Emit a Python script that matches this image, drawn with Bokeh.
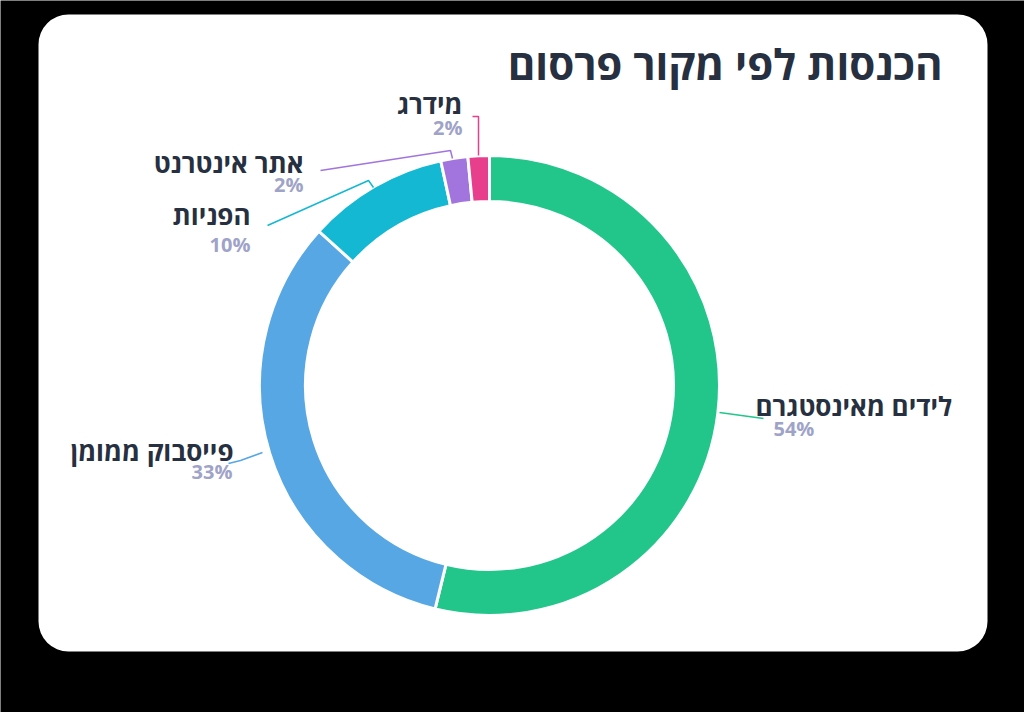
import math
from bokeh.plotting import figure
from bokeh.models import Range1d, BoxAnnotation
from bokeh.core.properties import value
from bokeh.embed import file_html
from bokeh.resources import INLINE

# data
title = "הכנסות לפי מקור פרסום"
sources = ["לידים מאינסטגרם", "פייסבוק ממומן", "הפניות", "אתר אינטרנט", "מידרג"]
shares = [53.8, 32.9, 9.9, 1.9, 1.5]
pct_labels = ["54%", "33%", "10%", "2%", "2%"]
colors = ["#22c68a", "#57a7e5", "#14b8d2", "#a275de", "#e83f8d"]

# label layout in page pixels (x, y of name; text alignment; leader points)
name_pos = [(755, 405), (233, 450), (250, 214), (303, 162), (462, 103)]
pct_pos = [(773, 428), (232, 471), (250, 244), (303, 184), (462, 127)]
aligns = ["left", "right", "right", "right", "right"]
leaders = [
    [(719, 412), (763, 418)],
    [(262, 452), (240, 460), (228, 463)],
    [(373, 187), (368, 180), (267, 225)],
    [(452, 158), (450, 150), (320, 170)],
    [(478, 155), (478, 116), (472, 116)],
]

CX, CY = 489, 385  # donut centre in page pixels
W, H = 1024, 712


def px(x):
    return x - CX


def py(y):
    return CY - y


p = figure(width=W, height=H, output_backend="svg", toolbar_location=None,
           x_range=Range1d(px(0), px(W)), y_range=Range1d(py(H), py(0)),
           min_border=0)
p.axis.visible = False
p.grid.visible = False
p.outline_line_color = None
p.background_fill_color = "black"
p.border_fill_color = "black"

# white card
card = BoxAnnotation(left=px(38), right=px(987), top=py(14), bottom=py(651),
                     fill_color="white", fill_alpha=1, line_alpha=0,
                     border_radius=30, level="underlay")
p.add_layout(card)

# donut
total = sum(shares)
starts, ends = [], []
acc = 0.0
for s in shares:
    starts.append(math.pi / 2 - 2 * math.pi * acc / total)
    acc += s
    ends.append(math.pi / 2 - 2 * math.pi * acc / total)

p.annular_wedge(x=0, y=0, inner_radius=184, outer_radius=230,
                start_angle=starts, end_angle=ends, direction="clock",
                fill_color=colors, line_color="white", line_width=3)

# leader lines
for pts, c in zip(leaders, colors):
    p.line([px(a) for a, b in pts], [py(b) for a, b in pts],
           line_color=c, line_width=1.5)

# labels
for name, pct, (nx, ny), (qx, qy), al in zip(sources, pct_labels, name_pos, pct_pos, aligns):
    p.text(x=[px(nx)], y=[py(ny)], text=[name], text_align=al,
           text_baseline="middle", text_font=value("Open Sans"),
           text_font_style="bold", text_font_size="26px", text_color="#263040")
    p.text(x=[px(qx)], y=[py(qy)], text=[pct], text_align=al,
           text_baseline="middle", text_font=value("Open Sans"),
           text_font_style="bold", text_font_size="20px", text_color="#9ea3c7")

p.text(x=[px(942)], y=[py(63)], text=[title], text_align="right",
       text_baseline="middle", text_font=value("Open Sans"),
       text_font_style="bold", text_font_size="42px", text_color="#263040")

open("out.html", "w").write(file_html(p, INLINE))
